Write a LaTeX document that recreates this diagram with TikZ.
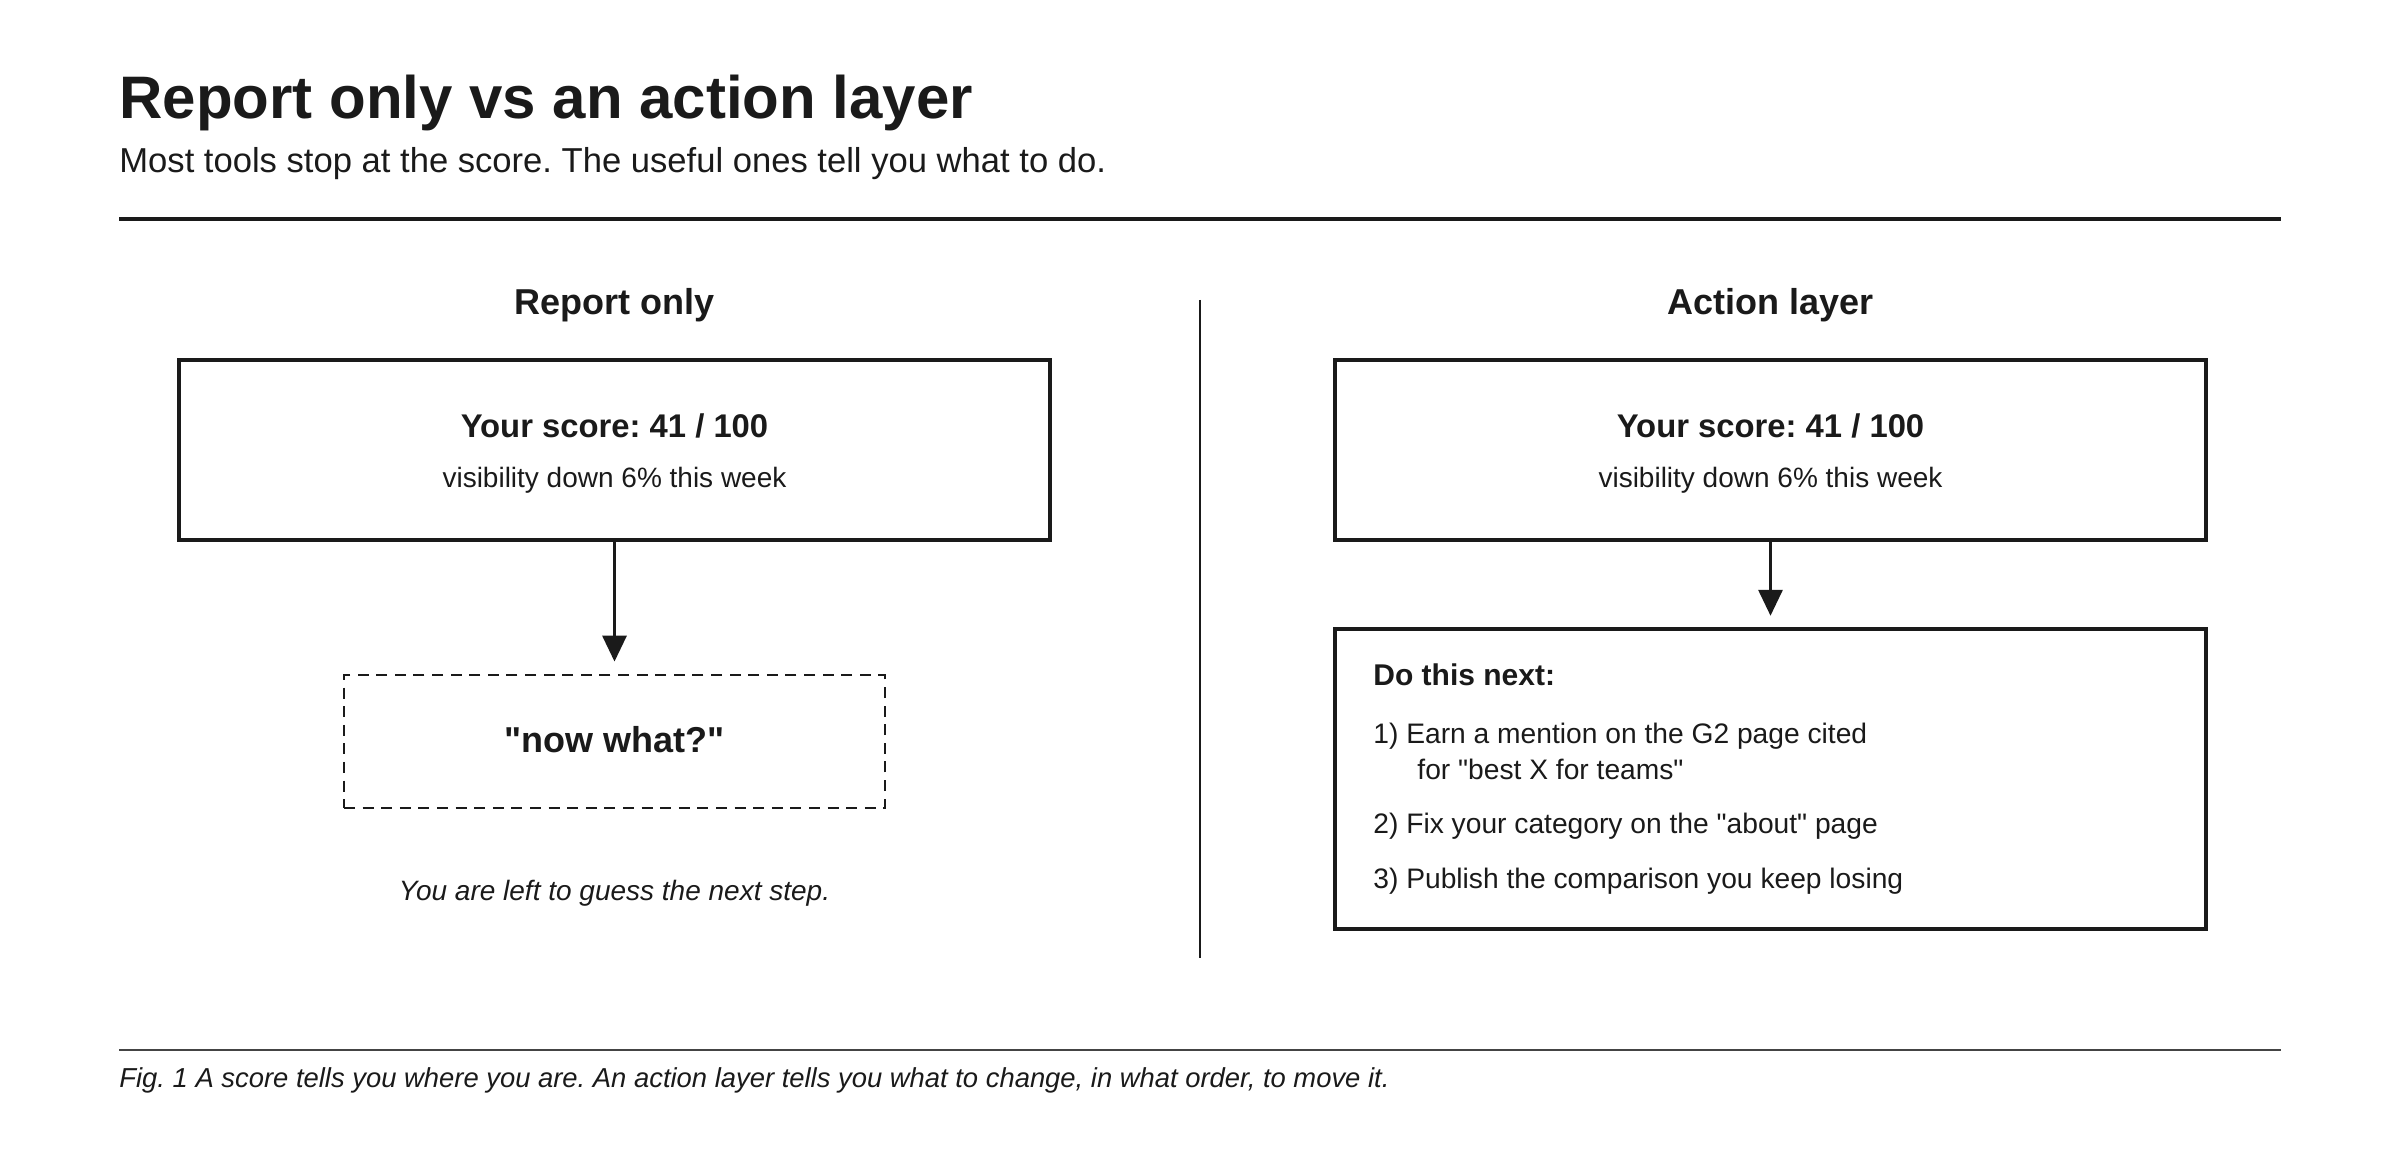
\documentclass[tikz,border=0pt]{standalone}
\usepackage{fontspec}
\setmainfont{Liberation Sans}[Ligatures=TeXOff]
\usetikzlibrary{positioning, arrows.meta}

\definecolor{ink}{HTML}{1A1A1A}
\definecolor{rulegray}{HTML}{444444}
\newcommand{\qq}[1]{"#1"}

\begin{document}
\frenchspacing
\begin{tikzpicture}[x=0.5pt, y=-0.5pt,
	every node/.style={text=ink, inner sep=0pt},
	scorebox/.style={draw=ink, line width=1.8pt, minimum width=435.5pt, minimum height=90pt},
	guessbox/.style={draw=ink, line width=1.4pt, dash pattern=on 5.5pt off 3.8pt, minimum width=270.5pt, minimum height=66.5pt},
	todobox/.style={draw=ink, line width=2.2pt, minimum width=435.5pt, minimum height=150pt},
	flow/.style={draw=ink, line width=1.6pt, -{Triangle[width=12pt,length=13pt]}},
	head/.style={font=\fontsize{18}{22}\selectfont\bfseries, anchor=base},
	item/.style={font=\fontsize{14.1}{17}\selectfont, anchor=base west}]
	\useasboundingbox (0,0) rectangle (2400,1170);

	% title block
	\node[anchor=base west, font=\fontsize{30}{36}\selectfont\bfseries] (title) at (119,119) {Report only vs an action layer};
	\node[anchor=base west, font=\fontsize{17.3}{21}\selectfont] (sub) at (119,173) {Most tools stop at the score. The useful ones tell you what to do.};
	\draw[ink, line width=1.6pt] (119,219) -- (2281,219);

	% divider
	\draw[ink, line width=0.9pt] (1200,300) -- (1200,958);

	% left column
	\node[head] (hl) at (614.5,315) {Report only};
	\node[scorebox] (sl) at (614.5,450) {};
	\node[anchor=base, font=\fontsize{16.4}{20}\selectfont\bfseries] (sla) at (614.5,438) {Your score: 41 / 100};
	\node[anchor=base, font=\fontsize{14}{17}\selectfont] (slb) at (614.5,488) {visibility down 6\% this week};
	\node[guessbox] (q) at (614.5,741.5) {};
	\node[anchor=base, font=\fontsize{18}{22}\selectfont\bfseries] (qt) at (614.5,753) {\qq{now what?}};
	\node[anchor=base, font=\fontsize{14}{17}\selectfont\itshape] (note) at (614.5,900) {You are left to guess the next step.};
	\draw[flow, shorten >=6pt] (sl.south) -- (q.north);

	% right column
	\node[head] (hr) at (1770.5,315) {Action layer};
	\node[scorebox] (sr) at (1770.5,450) {};
	\node[anchor=base, font=\fontsize{16.4}{20}\selectfont\bfseries] (sra) at (1770.5,438) {Your score: 41 / 100};
	\node[anchor=base, font=\fontsize{14}{17}\selectfont] (srb) at (1770.5,488) {visibility down 6\% this week};
	\node[todobox] (act) at (1770.5,779) {};
	\node[anchor=base west, font=\fontsize{15}{18}\selectfont\bfseries] (do) at (1373,686) {Do this next:};
	\node[item] (i1) at (1373,744) {1) Earn a mention on the G2 page cited};
	\node[item] (i1b) at (1417,779) {for \qq{best X for teams}};
	\node[item] (i2) at (1373,834) {2) Fix your category on the \qq{about} page};
	\node[item] (i3) at (1373,888) {3) Publish the comparison you keep losing};
	\draw[flow, shorten >=5.5pt] (sr.south) -- (act.north);

	% caption
	\draw[rulegray, line width=0.8pt] (119,1050) -- (2281,1050);
	\node[anchor=base west, font=\fontsize{13.7}{16}\selectfont\itshape] (cap) at (119,1087) {Fig. 1 A score tells you where you are. An action layer tells you what to change, in what order, to move it.};
\end{tikzpicture}
\end{document}
